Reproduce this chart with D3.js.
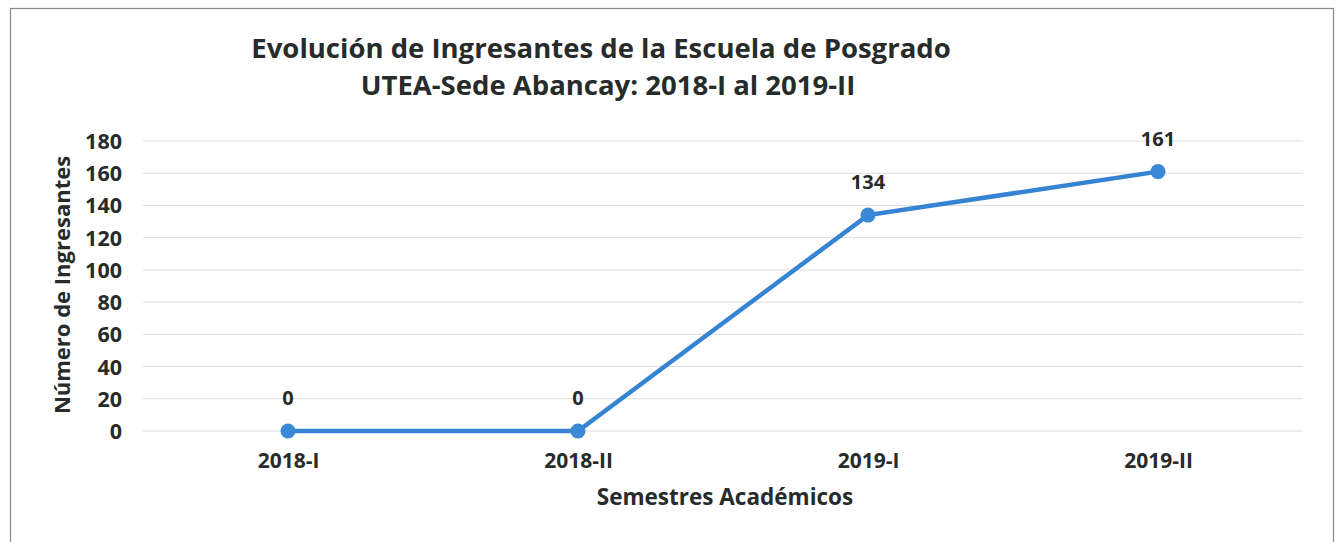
<!DOCTYPE html>
<meta charset="utf-8">
<style>
body { margin: 0; background: #fff; }
svg text { font-family: "Open Sans", "Noto Sans", sans-serif; fill: #272b2a; font-weight: 700; }
.grid line { stroke: #dcdcdc; stroke-width: 1; }
</style>
<svg class="chart" width="1337" height="542"></svg>
<script src="https://d3js.org/d3.v7.min.js"></script>
<script>
var semestres = ["2018-I", "2018-II", "2019-I", "2019-II"];
var ingresantes = [0, 0, 134, 161];
var yTicks = [0, 20, 40, 60, 80, 100, 120, 140, 160, 180];
var titulo = ["Evolución de Ingresantes de la Escuela de Posgrado", "UTEA-Sede Abancay: 2018-I al 2019-II"];

var svg = d3.select(".chart"),
    width = +svg.attr("width"),
    height = +svg.attr("height");

var margin = {left: 143, right: 34, top: 141, bottom: 111};

// outer frame
svg.append("rect")
    .attr("x", 10.5).attr("y", 8.5)
    .attr("width", 1323).attr("height", 540)
    .attr("fill", "none").attr("stroke", "#8a8a8a").attr("stroke-width", 1.2);

var x = d3.scalePoint()
    .domain(semestres)
    .range([margin.left, width - margin.right])
    .padding(0.5);

var y = d3.scaleLinear()
    .domain([0, 180])
    .range([height - margin.bottom, margin.top]);

svg.append("g")
    .attr("class", "grid")
    .selectAll("line")
    .data(yTicks)
    .enter().append("line")
      .attr("x1", margin.left).attr("x2", width - margin.right)
      .attr("y1", function(d) { return y(d); })
      .attr("y2", function(d) { return y(d); });

var yAxis = svg.append("g")
    .attr("transform", "translate(" + (margin.left - 21) + ",0)")
    .call(d3.axisLeft(y).tickValues(yTicks).tickSize(0).tickPadding(0));
yAxis.select(".domain").remove();
yAxis.selectAll("text").style("font-size", "21.5px").attr("dy", "0.35em");

var xAxis = svg.append("g")
    .attr("transform", "translate(0," + (height - margin.bottom) + ")")
    .call(d3.axisBottom(x).tickSize(0).tickPadding(22));
xAxis.select(".domain").remove();
xAxis.selectAll("text").style("font-size", "21px");

var pts = semestres.map(function(s, i) { return {s: s, v: ingresantes[i]}; });

svg.append("path")
    .datum(pts)
    .attr("fill", "none")
    .attr("stroke", "#3583d3")
    .attr("stroke-width", 4.5)
    .attr("d", d3.line()
        .x(function(d) { return x(d.s); })
        .y(function(d) { return y(d.v); }));

svg.append("g").selectAll("circle")
    .data(pts)
    .enter().append("circle")
      .attr("cx", function(d) { return x(d.s); })
      .attr("cy", function(d) { return y(d.v); })
      .attr("r", 7.5)
      .attr("fill", "#3b88d6");

svg.append("g").selectAll("text")
    .data(pts)
    .enter().append("text")
      .attr("x", function(d) { return x(d.s); })
      .attr("y", function(d) { return y(d.v) - 26; })
      .attr("text-anchor", "middle")
      .style("font-size", "20px")
      .text(function(d) { return d.v; });

svg.append("g").selectAll("text")
    .data(titulo)
    .enter().append("text")
      .attr("x", function(d, i) { return i ? 608 : 601; })
      .attr("y", function(d, i) { return 58 + i * 37; })
      .attr("text-anchor", "middle")
      .style("font-size", "27.5px")
      .text(function(d) { return d; });

svg.append("text")
    .attr("x", 725).attr("y", 505)
    .attr("text-anchor", "middle")
    .style("font-size", "22.5px")
    .text("Semestres Académicos");

svg.append("text")
    .attr("transform", "translate(70," + 285 + ") rotate(-90)")
    .attr("text-anchor", "middle")
    .style("font-size", "22px")
    .text("Número de Ingresantes");
</script>
